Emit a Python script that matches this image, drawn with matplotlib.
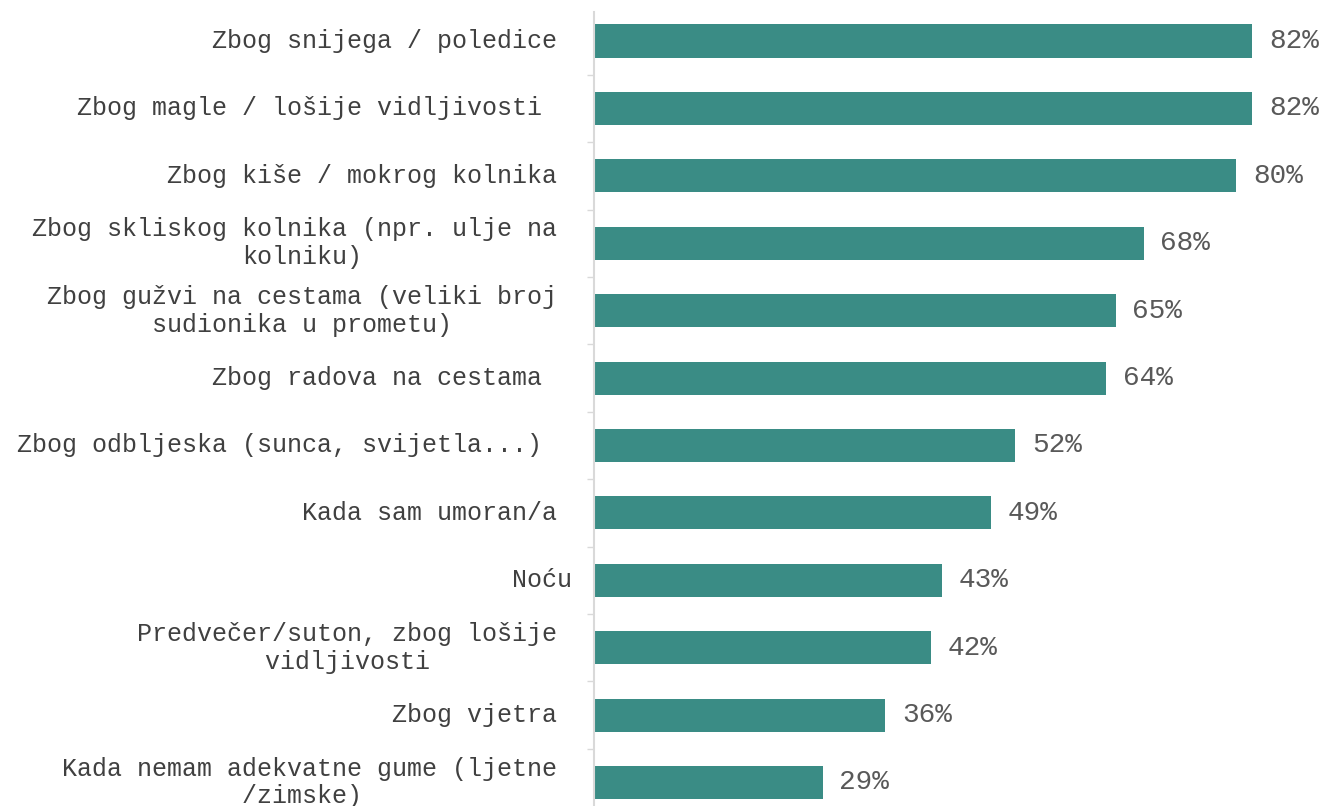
import matplotlib.pyplot as plt

plt.rcParams['font.family'] = ['Liberation Mono', 'DejaVu Sans Mono']

# trailing spaces kept as in the source labels
labels = ["Zbog snijega / poledice ",
          "Zbog magle / lošije vidljivosti  ",
          "Zbog kiše / mokrog kolnika ",
          "Zbog skliskog kolnika (npr. ulje na \nkolniku)",
          "Zbog gužvi na cestama (veliki broj \nsudionika u prometu) ",
          "Zbog radova na cestama  ",
          "Zbog odbljeska (sunca, svijetla...)  ",
          "Kada sam umoran/a ",
          "Noću",
          "Predvečer/suton, zbog lošije \nvidljivosti ",
          "Zbog vjetra ",
          "Kada nemam adekvatne gume (ljetne \n/zimske)  "]
values = [82.0, 82.0, 80.0, 68.5, 65.0, 63.8, 52.5, 49.5, 43.4, 42.0, 36.3, 28.5]
value_labels = ["82%", "82%", "80%", "68%", "65%", "64%",
                "52%", "49%", "43%", "42%", "36%", "29%"]

bar_color = "#3A8C85"

fig = plt.figure(figsize=(13.3, 8.06), dpi=100)
ax = fig.add_axes([0.4466, -0.0126, 0.5534, 0.9977])

pos = list(range(len(labels)))
ax.barh(pos, values, height=0.49, color=bar_color)

for p, v, t in zip(pos, values, value_labels):
    ax.annotate(t, (v, p), xytext=(12, 0), textcoords="offset points",
                va="center", ha="left", fontsize=20, color="#595959")

ax.set_xlim(0, 91.7)
ax.set_ylim(11.5, -0.43)

ax.set_yticks(pos)
ax.set_yticklabels(labels, fontsize=18, color="#404040")
for lab in ax.get_yticklabels():
    lab.set_multialignment("center")
    lab.set_verticalalignment("center")
ax.set_yticks([p + 0.5 for p in pos[:-1]], minor=True)
ax.tick_params(axis="y", which="major", length=0, pad=15.8)
ax.tick_params(axis="y", which="minor", length=5, width=1, color="#d9d9d9")
ax.set_xticks([])

for side in ["top", "right", "bottom"]:
    ax.spines[side].set_visible(False)
ax.spines["left"].set_color("#d9d9d9")
ax.spines["left"].set_linewidth(1.5)

fig.savefig("out.png", dpi=100)
